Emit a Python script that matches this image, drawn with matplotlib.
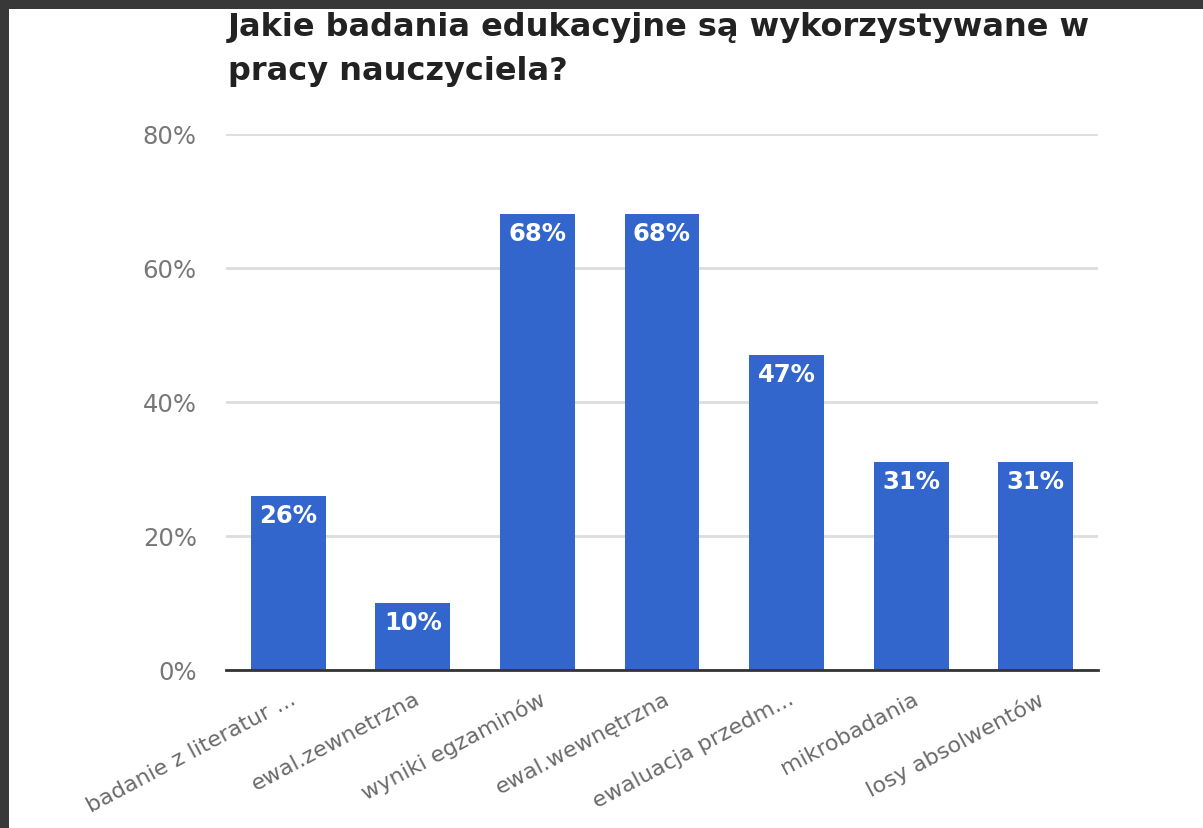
import matplotlib
matplotlib.use("Agg")
import matplotlib.pyplot as plt
from matplotlib.patches import Rectangle

categories = ["badanie z literatur ...", "ewal.zewnetrzna", "wyniki egzaminów",
              "ewal.wewnętrzna", "ewaluacja przedm...", "mikrobadania", "losy absolwentów"]
values = [26, 10, 68, 68, 47, 31, 31]
yticks = [0, 20, 40, 60, 80]
ytick_labels = ["0%", "20%", "40%", "60%", "80%"]
title = "Jakie badania edukacyjne są wykorzystywane w\npracy nauczyciela?"

plt.rcParams['font.family'] = ['DejaVu Sans']

W, H = 1203, 829
fig = plt.figure(figsize=(W / 100, H / 100), dpi=100)
fig.patch.set_facecolor("white")

# dark frame (screenshot border)
fig.patches.append(Rectangle((0, 1 - 10 / H), 1, 10 / H, transform=fig.transFigure,
                             facecolor="#383838", edgecolor="none", zorder=10))
fig.patches.append(Rectangle((0, 0), 9 / W, 1, transform=fig.transFigure,
                             facecolor="#383838", edgecolor="none", zorder=10))

left, right = 226 / W, 1098 / W
bottom, top = 1 - 671 / H, 1 - 135 / H
ax = fig.add_axes([left, bottom, right - left, top - bottom])

x = list(range(len(categories)))
ax.bar(x, values, width=0.6, color="#3366CC", zorder=3)
ax.set_xlim(-0.5, len(categories) - 0.5)
ax.set_ylim(0, 80)
ax.set_yticks(yticks)
ax.set_yticklabels(ytick_labels, color="#777777", fontsize=17.5)
ax.tick_params(axis="y", length=0, pad=21)
ax.tick_params(axis="x", length=0)
ax.grid(axis="y", color="#dddddd", linewidth=2, zorder=0)
for s in ["top", "right", "left"]:
    ax.spines[s].set_visible(False)
ax.spines["bottom"].set_color("#333333")
ax.spines["bottom"].set_linewidth(2)
ax.spines["bottom"].set_zorder(4)

ax.set_xticks(x)
ax.set_xticklabels([])
for xi, lab in zip(x, categories):
    ax.annotate(lab, xy=(xi, 0), xycoords="data", xytext=(1, -13),
                textcoords="offset points", rotation=28, ha="right", va="top",
                rotation_mode="anchor", color="#6a6a6a", fontsize=16)

for xi, v in zip(x, values):
    ax.annotate(f"{v}%", xy=(xi, v), xytext=(0, -5), textcoords="offset points",
                ha="center", va="top", color="white", fontsize=17.5, fontweight="bold",
                zorder=5)

fig.text(228 / W, 1 - 12 / H, title, ha="left", va="top", fontsize=23,
         fontweight="bold", color="#222222", linespacing=1.55)

fig.savefig("out.png", dpi=100)
